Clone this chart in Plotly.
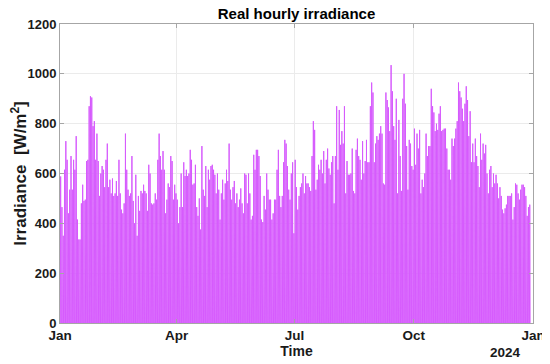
import pandas as pd
import plotly.graph_objects as go

# Daily peak irradiance [W/m^2] for 2023 (one value per day)
seg1 = [588, 465, 350, 615, 730, 655, 440, 535, 670, 535, 655, 615, 750, 415, 335, 335,
        480, 555, 490, 495, 650, 655, 870, 910, 905, 790, 810, 655, 760, 650, 510, 600,
        630, 615, 545, 655, 720, 545, 575, 520, 580, 510, 520, 570, 510, 655, 520, 455,
        440, 480, 760, 615, 535, 510, 520, 670, 490, 400, 595, 350, 510, 450, 530, 520,
        555, 530, 520, 450, 635, 600, 480, 475, 480]
seg2 = [520, 495, 655, 760, 670, 615, 690, 615, 440, 495, 560, 545, 670, 650, 495, 555,
        520, 495, 400, 465, 600, 465, 645, 590, 615, 590, 600, 695, 655, 555, 560, 635,
        465, 430, 500, 375, 710, 535, 510, 630, 465, 615, 575, 630, 635, 615, 595, 520,
        600, 535, 415, 520, 575, 495, 560, 615, 570, 720, 535, 495, 545, 570, 480, 520,
        465, 495, 540, 480, 440, 600, 595, 480, 600]
seg3 = [520, 415, 430, 675, 615, 695, 695, 670, 590, 415, 405, 510, 455, 600, 535, 495,
        495, 415, 440, 495, 495, 615, 695, 510, 465, 510, 645, 735, 720, 630, 535, 495,
        600, 645, 360, 655, 545, 455, 510, 545, 560, 600, 520, 590, 560, 560, 545, 530,
        670, 810, 775, 535, 575, 635, 615, 655, 600, 690, 560, 655, 700, 620, 595, 645,
        670, 480, 670, 870, 615, 855, 715, 770, 720]
seg4 = [870, 520, 650, 595, 595, 600, 700, 530, 520, 695, 740, 670, 655, 575, 730, 600,
        650, 735, 645, 645, 870, 965, 925, 645, 720, 750, 735, 760, 790, 760, 560, 555,
        925, 895, 865, 770, 1035, 930, 790, 735, 900, 520, 815, 670, 530, 900, 1000, 880,
        710, 535, 735, 720, 630, 615, 780, 635, 760, 700, 775, 520, 575, 545, 600, 760,
        670, 710, 710, 940, 870, 845, 770, 800, 775]
seg5 = [840, 870, 770, 775, 780, 780, 700, 615, 615, 575, 740, 710, 740, 780, 810, 965,
        930, 905, 860, 810, 880, 950, 895, 750, 850, 645, 720, 645, 740, 670, 630, 545,
        760, 655, 720, 680, 715, 600, 520, 615, 630, 545, 600, 560, 595, 560, 500, 545,
        510, 455, 440, 460, 475, 510, 510, 510, 520, 415, 465, 560, 555, 520, 495, 535,
        555, 555, 545, 510, 430, 465, 475]
daily_peak = seg1 + seg2 + seg3 + seg4 + seg5

start = pd.Timestamp("2023-01-01")
days = pd.date_range(start, periods=len(daily_peak), freq="D")

# Night-time irradiance is zero; daylight from ~06:00 to ~18:00 with the maximum at noon.
times, values = [], []
for d, p in zip(days, daily_peak):
    times += [d + pd.Timedelta(hours=6), d + pd.Timedelta(hours=12), d + pd.Timedelta(hours=18)]
    values += [0, p, 0]

tick_dates = ["2023-01-01", "2023-04-01", "2023-07-01", "2023-10-01", "2024-01-01"]
tick_text = ["Jan", "Apr", "Jul", "Oct", "Jan"]
y_ticks = [0, 200, 400, 600, 800, 1000, 1200]

font_family = "Liberation Sans, Arial, sans-serif"

fig = go.Figure()
fig.add_trace(go.Scatter(
    x=times, y=values, mode="lines",
    line=dict(color="#d65bfd", width=1),
    showlegend=False, hoverinfo="skip",
))

# The page body has an 8px margin, so the figure is sized and offset to compensate.
fig.update_layout(
    width=542, height=356,
    margin=dict(l=52, r=17, t=16, b=41),
    paper_bgcolor="white", plot_bgcolor="white",
    font=dict(family=font_family, size=13, color="#1a1a1a"),
    title=dict(text="<b>Real hourly irradiance</b>", xref="paper", x=0.5, xanchor="center",
               yref="container", y=1, yanchor="top", pad=dict(t=0),
               font=dict(size=15, color="#000")),
    xaxis=dict(
        type="date", range=["2023-01-01", "2024-01-01"], automargin=False,
        tickvals=tick_dates, ticktext=["<b>%s</b>" % t for t in tick_text],
        showgrid=True, gridcolor="#ebebeb", gridwidth=1,
        showline=True, linecolor="#a6a6a6", linewidth=1, mirror="ticks",
        ticks="inside", ticklen=4, tickcolor="#a6a6a6",
        tickfont=dict(size=13.5, color="#1a1a1a"),
        title=dict(text="<b>Time</b>", font=dict(size=14, color="#1a1a1a"), standoff=1),
        zeroline=False,
    ),
    yaxis=dict(
        range=[0, 1200], tickvals=y_ticks, ticktext=["<b>%d</b>" % v for v in y_ticks],
        automargin=False,
        showgrid=True, gridcolor="#ebebeb", gridwidth=1,
        showline=True, linecolor="#a6a6a6", linewidth=1, mirror="ticks",
        ticks="inside", ticklen=4, tickcolor="#a6a6a6",
        tickfont=dict(size=13, color="#1a1a1a"),
        title=dict(text="<b>Irradiance  [W/m<sup>2</sup>]</b>", font=dict(size=17, color="#1a1a1a"),
                   standoff=4),
        zeroline=False,
    ),
    annotations=[dict(
        text="<b>2024</b>", xref="paper", yref="paper", x=1, y=0,
        xanchor="right", yanchor="top", xshift=-10, yshift=-20, showarrow=False,
        font=dict(size=13.5, color="#1a1a1a"),
    )],
)

fig.write_html("out.html")
